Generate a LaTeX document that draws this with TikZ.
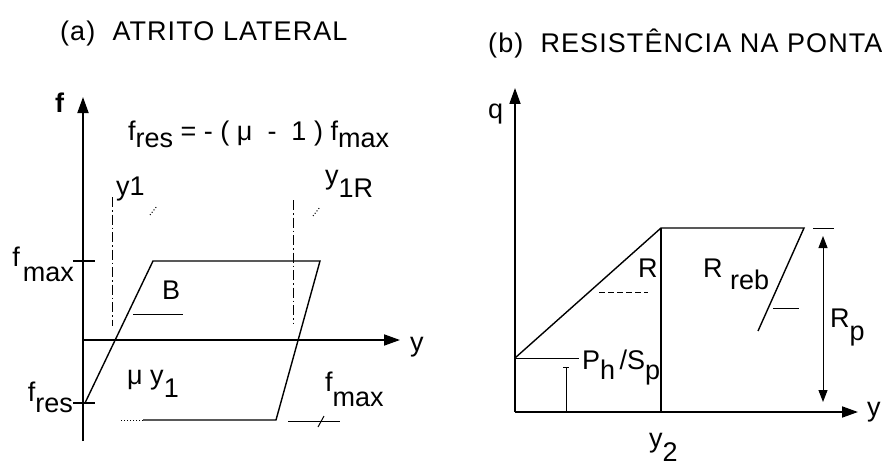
\documentclass[tikz,border=0pt]{standalone}
\usepackage{fontspec}
\setmainfont{Liberation Sans}
\usetikzlibrary{arrows.meta}
\newcommand{\dn}[2][7pt]{\raisebox{-#1}{#2}}

\begin{document}
\begin{tikzpicture}[x=1pt, y=-1pt,
    % estilos para nao repetir codigo
    eixo/.style={line width=1.8pt, -{Triangle[length=16pt,width=11pt]}},
    curva/.style={line width=1.4pt},
    guia/.style={line width=1pt},
    tracoponto/.style={line width=1pt, dash pattern=on 10pt off 3pt on 1.5pt off 3pt},
    rot/.style={inner sep=0pt, anchor=base west, font=\fontsize{27}{30}\selectfont},
    titulo/.style={rot, font=\fontsize{27}{30}\selectfont\addfontfeature{LetterSpace=4}}
  ]
  \useasboundingbox (0,0) rectangle (882,468);

  % 1. Titulos
  \node[titulo] (tita) at (60,41) {(a)\ \ ATRITO LATERAL};
  \node[titulo] (titb) at (488,53) {(b)\ \ RESISTÊNCIA NA PONTA};

  % 2. Painel (a): eixos
  \coordinate (oa) at (83,340);
  \coordinate (fb) at (83,441);
  \coordinate (ft) at (83,97);
  \coordinate (ye) at (400,340);
  \draw[eixo] (fb) -- (ft);
  \draw[eixo] (oa) -- (ye);
  \draw[curva] (73,261) -- (95,261);
  \draw[curva] (73,403) -- (95,403);

  % laco de atrito lateral
  \coordinate (a1) at (85,403);
  \coordinate (a2) at (153,261);
  \coordinate (a3) at (320,261);
  \coordinate (a4) at (276,420);
  \coordinate (a5) at (143,420);
  \coordinate (a6) at (120,420);
  \draw[curva] (a1) -- (a2) -- (a3) -- (a4) -- (a5);
  \draw[guia, dotted] (a5) -- (a6);

  % linhas traco-ponto de y1 e y1R
  \draw[tracoponto] (112,197) -- (112,326);
  \draw[tracoponto] (293,200) -- (293,324);
  \draw[guia, dotted] (150,215) -- (157,206);
  \draw[guia, dotted] (313,216) -- (320,207);

  % inclinacao B e marca de fmax
  \draw[guia] (133,314) -- (183,314);
  \draw[guia] (288,421) -- (340,421);
  \draw[guia] (318,427) -- (324,416);

  % rotulos (a)
  \node[rot] (lf) at (55,112) {\textbf{f}};
  \node[rot] (lfres) at (128,140) {f\dn{res} = - ( μ \ - \ 1 ) f\dn{max}};
  \node[rot] (ly1) at (116,195) {y1};
  \node[rot] (ly1r) at (325,184) {y\dn[13pt]{1R}};
  \node[rot, anchor=base east] (lfmax) at (74,266) {f\hspace{3pt}\dn[15pt]{max}};
  \node[rot, anchor=base east] (lfr) at (73,401) {f\dn[11pt]{res}};
  \node[rot] (lb) at (162,299) {B};
  \node[rot] (lmu) at (127,384) {μ\ y\dn[13pt]{1}};
  \node[rot] (lfm) at (325,391) {f\dn[15pt]{max}};
  \node[rot] (lya) at (410,351) {y};

  % 3. Painel (b): eixos
  \coordinate (ob) at (515,412);
  \coordinate (qt) at (515,88);
  \coordinate (yb) at (858,412);
  \draw[eixo] (ob) -- (qt);
  \draw[eixo] (ob) -- (yb);

  % curva de resistencia na ponta
  \coordinate (b1) at (515,358);
  \coordinate (b2) at (661,228);
  \coordinate (b3) at (804,228);
  \coordinate (b4) at (758,331);
  \coordinate (b5) at (661,412);
  \draw[curva] (b1) -- (b2) -- (b3) -- (b4);
  \draw[curva] (b2) -- (b5);
  \draw[line width=2.6pt] (ob) -- (b5);

  % Ph/Sp
  \draw[guia] (b1) -- (579,358);
  \draw[guia, {Bar[width=6pt]}-{Bar[width=6pt]}] (566,367) -- (566,412);

  % inclinacoes R e Rreb
  \draw[guia, dash pattern=on 6pt off 3pt] (599,292) -- (648,292);
  \draw[guia] (773,308) -- (799,308);

  % cota Rp
  \coordinate (rpt) at (823,236);
  \coordinate (rpb) at (823,402);
  \draw[guia] (813,228) -- (834,228);
  \draw[guia, {Triangle[length=12pt,width=9pt]}-{Triangle[length=12pt,width=9pt]}] (rpt) -- (rpb);

  % rotulos (b)
  \node[rot] (lq) at (488,118) {q};
  \node[rot] (lr) at (638,277) {R};
  \node[rot] (lrreb) at (703,277) {R\ \dn[12pt]{reb}};
  \node[rot] (lph) at (582,369) {P\dn[10pt]{h}\,/S\dn[10pt]{p}};
  \node[rot] (lrp) at (830,327) {R\dn[13pt]{p}};
  \node[rot] (ly2) at (649,447) {y\dn[14pt]{2}};
  \node[rot] (lyb) at (867,416) {y};

\end{tikzpicture}
\end{document}
